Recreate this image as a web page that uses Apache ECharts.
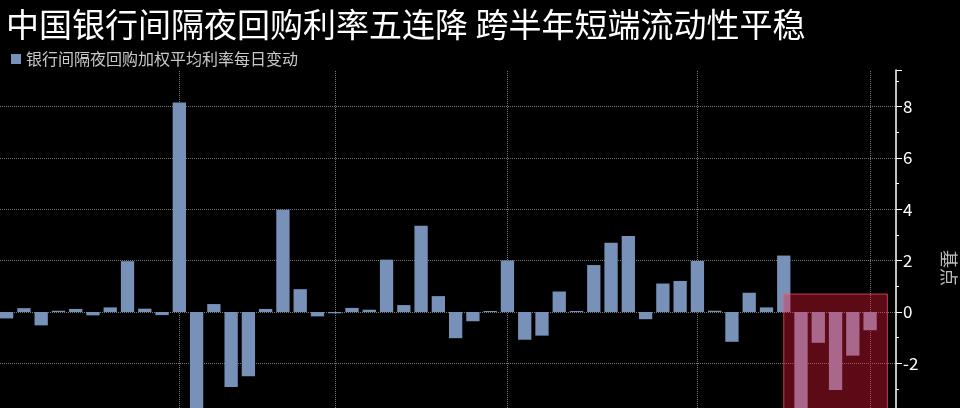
<!DOCTYPE html>
<html>
<head>
<meta charset="utf-8">
<script src="https://cdn.jsdelivr.net/npm/echarts@6/dist/echarts.min.js"></script>
<style>
  html, body { margin: 0; padding: 0; background: #000; }
  #chart { width: 960px; height: 408px; }
</style>
</head>
<body>
<div id="chart"></div>
<script>
// 每日变动（基点），最后一格为空
const dailyChange = [
  -0.25, 0.15, -0.52, 0.05, 0.12, -0.13, 0.18, 1.98, 0.13, -0.12,
  8.16, -4.3, 0.31, -2.92, -2.50, 0.12, 3.98, 0.89, -0.17, -0.05,
  0.16, 0.09, 2.04, 0.27, 3.36, 0.62, -1.02, -0.36, 0.04, 2.01,
  -1.08, -0.92, 0.80, 0.04, 1.83, 2.70, 2.96, -0.28, 1.11, 1.21,
  1.99, 0.05, -1.16, 0.75, 0.18, 2.20, -4.8, -1.20, -3.04, -1.70,
  -0.71, null
];
const days = dailyChange.map((v, i) => String(i + 1));
// 竖向网格线所在的日期
const gridDays = ['11', '20', '30', '41', '51'];
// 红框：起止位置（按日序号，0 起）与上沿
const highlightFrom = 45;
const highlightTo = 51;
const highlightTop = 0.7;

const seriesName = '银行间隔夜回购加权平均利率每日变动';
const font = 'Noto Sans CJK SC';

const chart = echarts.init(document.getElementById('chart'));
chart.setOption({
  backgroundColor: '#000',
  animation: false,
  textStyle: { fontFamily: font },
  title: {
    text: '中国银行间隔夜回购利率五连降 跨半年短端流动性平稳',
    left: 1,
    top: 3,
    textStyle: { color: '#fff', fontSize: 33, fontWeight: 'normal', fontFamily: font }
  },
  legend: {
    data: [seriesName],
    left: 6,
    top: 46,
    icon: 'rect',
    itemWidth: 10,
    itemHeight: 10,
    itemGap: 5,
    textStyle: { color: '#c8c8c8', fontSize: 16, fontFamily: font }
  },
  grid: { left: -2, right: 64, top: 70, bottom: -58, outerBoundsMode: 'none' },
  xAxis: [{
    type: 'category',
    data: days,
    axisLine: { show: false },
    axisTick: { show: false },
    axisLabel: { show: false },
    splitLine: { show: false }
  }, {
    // 辅助轴：用于红框定位到柱中心
    type: 'value',
    min: -0.5,
    max: days.length - 0.5,
    show: false
  }],
  yAxis: {
    type: 'value',
    position: 'right',
    min: -6,
    max: 9.43,
    interval: 2,
    name: '基点',
    nameLocation: 'middle',
    nameRotate: -90,
    nameGap: 44,
    nameTextStyle: { color: '#bbb', fontSize: 18, fontFamily: font },
    axisLine: { show: true, onZero: false, lineStyle: { color: '#fff', width: 1.5 } },
    axisTick: { show: true, length: 6, lineStyle: { color: '#fff' } },
    minorTick: { show: true, splitNumber: 2, length: 3, lineStyle: { color: '#fff' } },
    axisLabel: { color: '#fff', fontSize: 17, margin: 7, showMaxLabel: false, fontFamily: font },
    splitLine: { show: true, showMaxLine: false, lineStyle: { color: '#777', type: 'dotted', width: 1 } }
  },
  series: [{
    name: seriesName,
    type: 'bar',
    data: dailyChange,
    barWidth: '77%',
    itemStyle: { color: '#7891b8' },
    markLine: {
      silent: true,
      z: 1,
      symbol: ['none', 'none'],
      label: { show: false },
      lineStyle: { color: '#777', type: 'dotted', width: 1 },
      data: gridDays.map(d => ({ xAxis: d }))
    }
  }, {
    type: 'line',
    xAxisIndex: 1,
    data: [],
    silent: true,
    markArea: {
      silent: true,
      z: 3,
      itemStyle: {
        color: 'rgba(255, 30, 60, 0.36)',
        borderColor: 'rgba(255, 90, 110, 0.7)',
        borderWidth: 1
      },
      data: [[
        { xAxis: highlightFrom, yAxis: -6 },
        { xAxis: highlightTo, yAxis: highlightTop }
      ]]
    }
  }]
});
</script>
</body>
</html>
